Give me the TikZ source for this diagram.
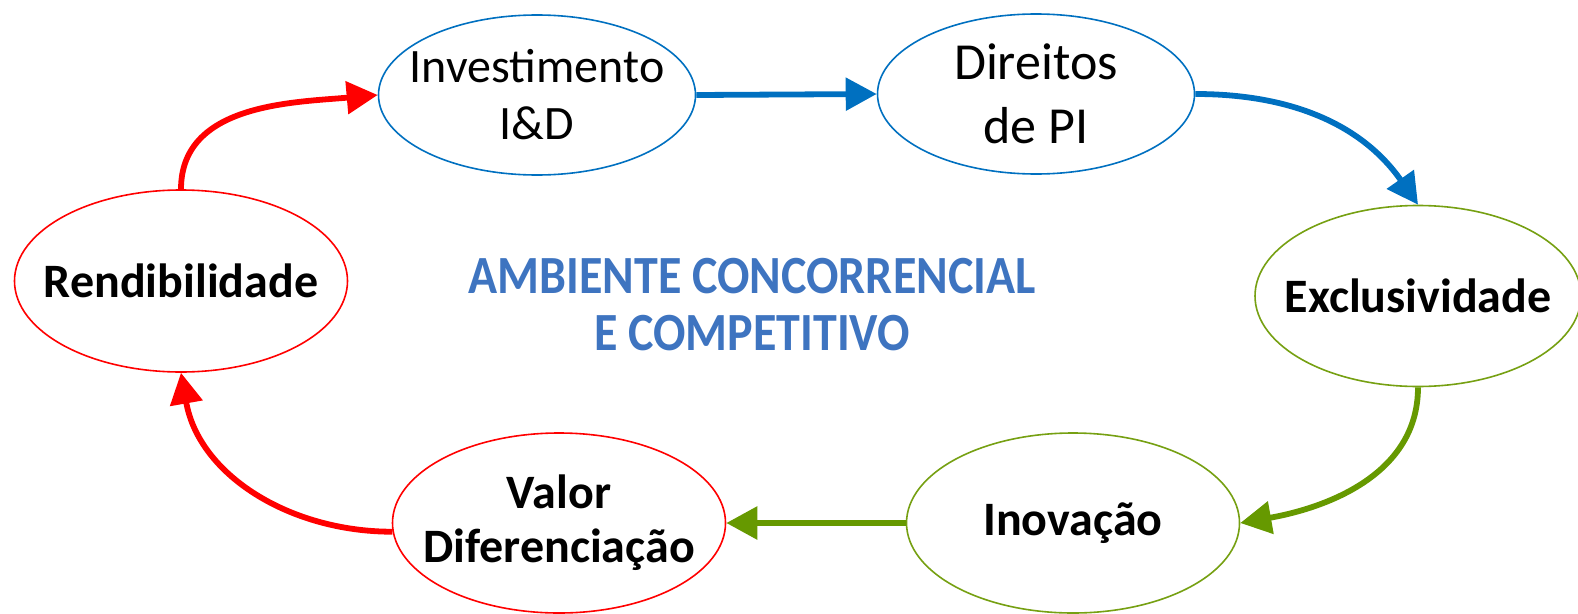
\documentclass[tikz,border=0pt]{standalone}
\usepackage{fontspec}
\setmainfont{Carlito}
\usepackage{graphicx}
\usetikzlibrary{positioning,arrows.meta,shapes.geometric}

\definecolor{piblue}{RGB}{0,112,192}
\definecolor{pigreen}{RGB}{102,153,0}
\definecolor{pigreenline}{RGB}{118,160,18}
\definecolor{pired}{RGB}{255,0,0}
\definecolor{artblue}{RGB}{62,116,192}

\begin{document}
\begin{tikzpicture}[x=1pt, y=1pt,
    % Define styles for the stages of the cycle
    stage/.style={ellipse, draw, line width=1.6pt, fill=white, inner sep=0pt},
    bluestage/.style={stage, draw=piblue, minimum width=317pt, minimum height=160pt},
    greenstage/.style={stage, draw=pigreenline},
    redstage/.style={stage, draw=pired},
    stagetext/.style={align=center, font=\fontsize{48}{57}\selectfont},
    boldtext/.style={stagetext, font=\bfseries\fontsize{48}{54}\selectfont},
    flow/.style={line width=5.8pt, -{Triangle[length=31pt,width=32pt]}},
    bigtitle/.style={font=\bfseries\fontsize{48}{57}\selectfont, text=artblue, align=center}
]
    \useasboundingbox (0,0) rectangle (1578,-613);

    % Stages
    \node[bluestage, label={[stagetext]center:Investimento\\I\&D}] (inv) at (537,-95) {};
    \node[bluestage, label={[stagetext, font=\fontsize{52}{64}\selectfont]center:Direitos\\de PI}] (dir) at (1036,-94) {};
    \node[greenstage, minimum width=326pt, minimum height=181pt, label={[boldtext]center:Exclusividade}] (exc) at (1418,-296) {};
    \node[greenstage, minimum width=333pt, minimum height=180pt, label={[boldtext]center:Inovação}] (ino) at (1073,-523) {};
    \node[redstage, minimum width=333pt, minimum height=180pt, label={[boldtext]center:Valor\\Diferenciação}] (val) at (559,-523) {};
    \node[redstage, minimum width=333pt, minimum height=182pt, label={[boldtext]center:Rendibilidade}] (rend) at (181,-281) {};

    % Centre title
    \node[bigtitle] (amb) at (752,-305) {\scalebox{1}[1.12]{AMBIENTE CONCORRENCIAL}\\\scalebox{1}[1.12]{E COMPETITIVO}};

    % Arrows between the stages
    \draw[flow, piblue] (inv.east) -- (dir.west);
    \draw[flow, piblue] (dir.east) to[out=0, in=125] (exc.north);
    \draw[flow, pigreen] (exc.south) to[out=-90, in=10] (ino.east);
    \draw[flow, pigreen] (ino.west) -- (val.east);
    \draw[flow, pired] (val.183) to[out=180, in=-80] (rend.south);
    \draw[flow, pired] (rend.north) to[out=90, in=185] (inv.west);

\end{tikzpicture}
\end{document}
